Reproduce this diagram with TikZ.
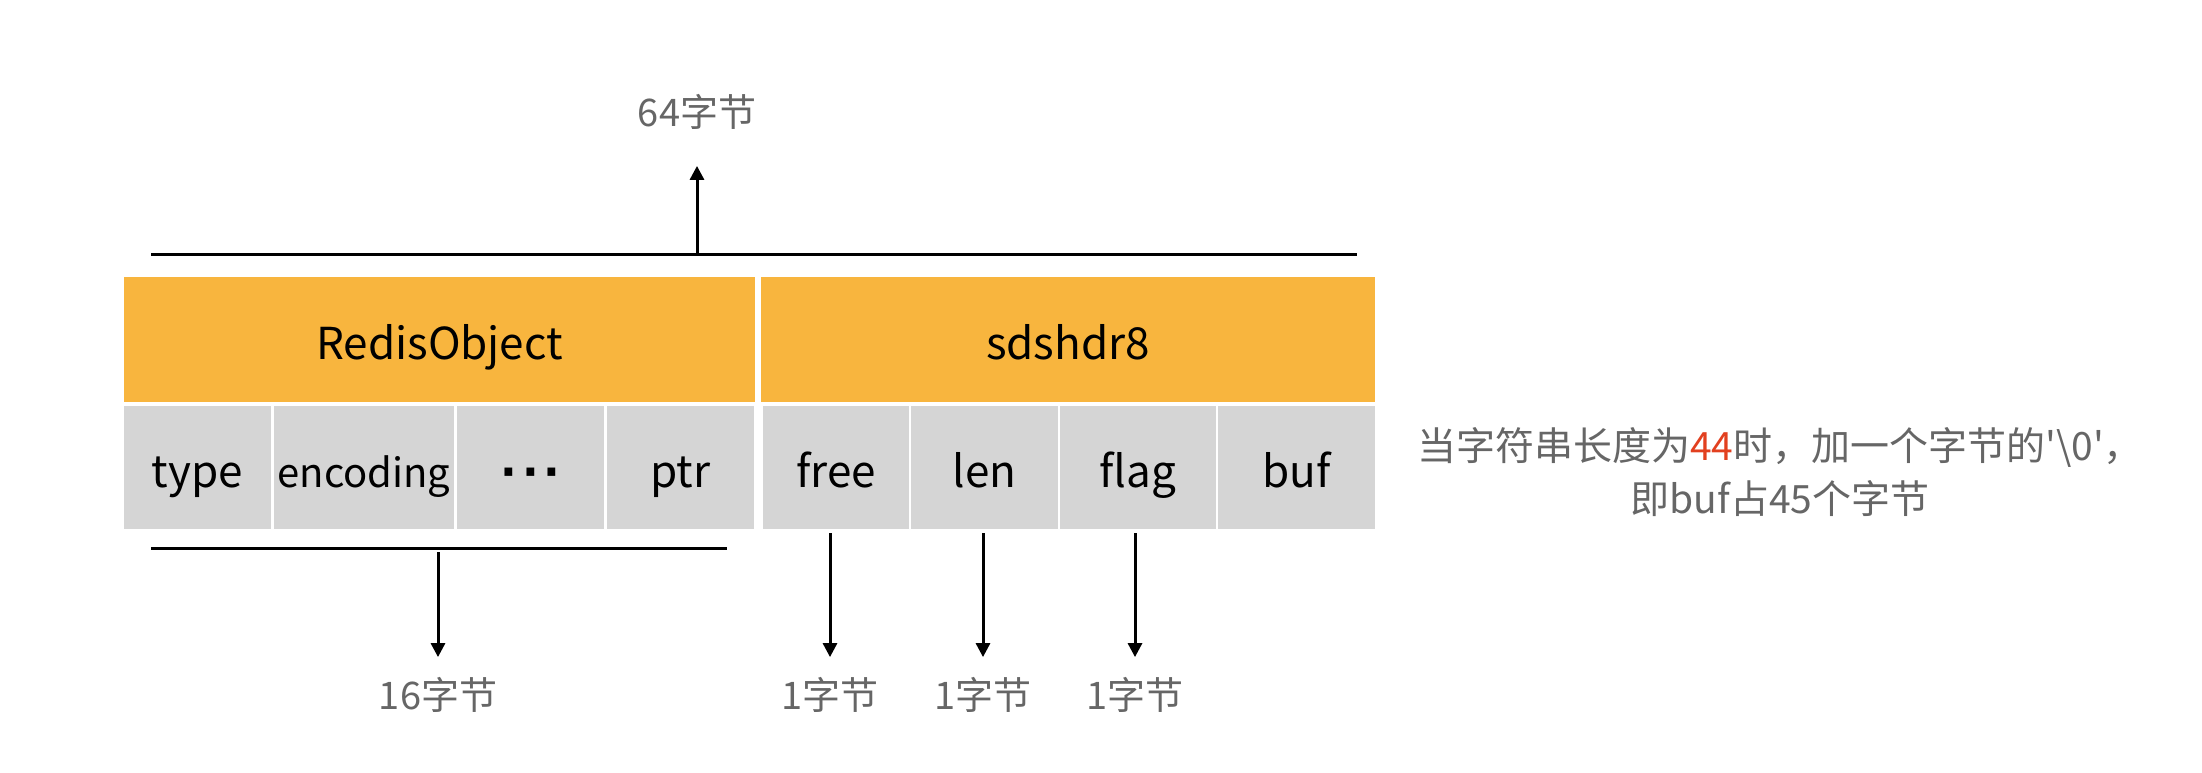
\documentclass[tikz,border=0pt]{standalone}
\usepackage{fontspec}
\setmainfont{Noto Sans CJK SC}
\newfontfamily\dejavu{DejaVu Sans}
\usetikzlibrary{arrows.meta}
\definecolor{boxorange}{HTML}{F8B53E}
\definecolor{cellgray}{HTML}{D5D5D5}
\definecolor{labelgray}{HTML}{666666}
\definecolor{numred}{HTML}{E2401F}
\begin{document}
\begin{tikzpicture}[x=0.5pt,y=-0.5pt,
  hdr/.style={fill=boxorange, inner sep=0pt, minimum height=62.5pt, text height=20pt, text depth=0pt, font=\fontsize{22pt}{26pt}\selectfont},
  cell/.style={fill=cellgray, inner sep=0pt, minimum height=61.5pt, text height=20pt, text depth=0pt, font=\fontsize{22pt}{26pt}\selectfont},
  lbl/.style={text=labelgray, inner sep=0pt, text height=16pt, text depth=1.5pt, font=\fontsize{19pt}{23pt}\selectfont},
  bar/.style={line width=1.5pt},
  arr/.style={line width=1.5pt, -{Triangle[width=7pt,length=7pt]}}]
\useasboundingbox (0,0) rectangle (2202,772);
% header boxes
\node[hdr, minimum width=315.5pt] (redis) at (439.5,339.5) {RedisObject};
\node[hdr, minimum width=307pt] (sds) at (1068,339.5) {sdshdr8};
% field cells
\node[cell, minimum width=73.5pt] (type) at (197.5,467.5) {type};
\node[cell, minimum width=90pt, font=\fontsize{20pt}{24pt}\selectfont] (enc) at (364,467.5) {encoding};
\node[cell, minimum width=73.5pt] (dots) at (530.5,467.5) {\dejavu\bfseries ·\hspace{2.5pt}·\hspace{2.5pt}·};
\node[cell, minimum width=73.5pt] (ptr) at (680.5,467.5) {ptr};
\node[cell, minimum width=73pt] (free) at (836,467.5) {free};
\node[cell, minimum width=73.5pt] (len) at (984.5,467.5) {len};
\node[cell, minimum width=78pt] (flag) at (1138,467.5) {flag};
\node[cell, minimum width=78.5pt] (buf) at (1296.5,467.5) {buf};
% top bracket
\coordinate (tl) at (151,254);
\coordinate (tr) at (1357,254);
\coordinate (ta) at (697,254);
\draw[bar] (tl) -- (tr);
\node[lbl] (l64) at (697,112) {64字节};
\draw[arr, shorten >=18pt] (ta) -- (l64);
% bottom bracket
\coordinate (bl) at (151,548);
\coordinate (br) at (727,548);
\coordinate (ba) at (438,548);
\draw[bar] (bl) -- (br);
\node[lbl] (l16) at (438,695) {16字节};
\draw[arr, shorten <=2pt, shorten >=10pt] (ba) -- (l16);
% one-byte fields
\node[lbl] (l1a) at (830,695) {1字节};
\node[lbl] (l1b) at (983,695) {1字节};
\node[lbl] (l1c) at (1135,695) {1字节};
\draw[arr, shorten <=2pt, shorten >=10pt] (free.south -| l1a) -- (l1a);
\draw[arr, shorten <=2pt, shorten >=10pt] (len.south -| l1b) -- (l1b);
\draw[arr, shorten <=2pt, shorten >=10pt] (flag.south -| l1c) -- (l1c);
% note
\node[text=labelgray, align=center, inner sep=0pt, font=\fontsize{19.5pt}{26.5pt}\selectfont] (note) at (1780,472) {当字符串长度为\textcolor{numred}{44}时，加一个字节的\textquotesingle\textbackslash 0\textquotesingle，\\即buf占45个字节};
\end{tikzpicture}
\end{document}
